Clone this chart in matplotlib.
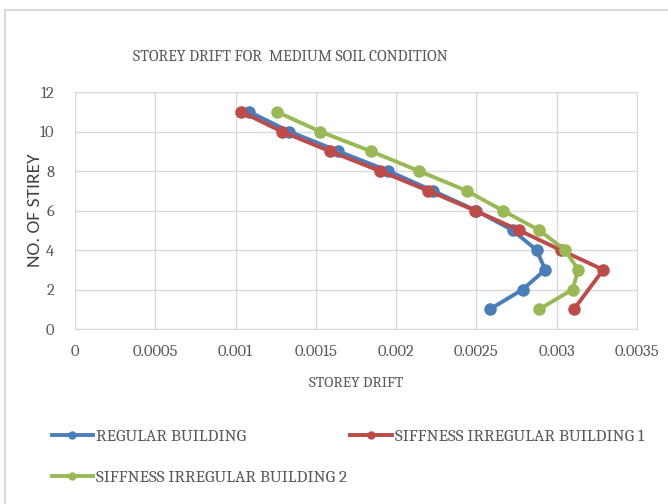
import matplotlib
matplotlib.use('Agg')
import matplotlib.pyplot as plt
from matplotlib.patches import Rectangle

# storey drift values
storeys = [1, 2, 3, 4, 5, 6, 7, 8, 9, 10, 11]
regular = [0.002584, 0.002788, 0.002928, 0.002875, 0.002725, 0.002497,
           0.002229, 0.001951, 0.001640, 0.001334, 0.001085]
# irregular building 1 has no value at storey 2
storeys_irr1 = [1, 3, 4, 5, 6, 7, 8, 9, 10, 11]
irregular1 = [0.003107, 0.003290, 0.003024, 0.002765, 0.002491,
              0.002200, 0.001899, 0.001588, 0.001287, 0.001036]
irregular2 = [0.002891, 0.003099, 0.003134, 0.003051, 0.002891, 0.002663,
              0.002439, 0.002142, 0.001843, 0.001526, 0.001256]

labels = ['REGULAR BUILDING', 'SIFFNESS IRREGULAR BUILDING 1',
          'SIFFNESS IRREGULAR BUILDING 2']
colors = ['#4a7ebb', '#be4b48', '#98b954']
xticks = [0, 0.0005, 0.001, 0.0015, 0.002, 0.0025, 0.003, 0.0035]
xticklabels = ['0', '0.0005', '0.001', '0.0015', '0.002', '0.0025', '0.003', '0.0035']
yticks = [0, 2, 4, 6, 8, 10, 12]

serif = 'Caladea'
grey = '#595959'
grid = '#d9d9d9'

fig = plt.figure(figsize=(6.68, 5.04), dpi=100)
# chart frame (partly cut off in the original)
fig.patches.append(Rectangle((5 / 668, -0.1), 1.2, 1 - 10 / 504 + 0.1,
                             transform=fig.transFigure, fill=False,
                             edgecolor='#d9d9d9', lw=1.5))

ax = fig.add_axes([75 / 668, 1 - 329 / 504, (637 - 75) / 668, (329 - 92) / 504])

series = [(regular, storeys), (irregular1, storeys_irr1), (irregular2, storeys)]
handles = []
for (xs, ys), lab, c in zip(series, labels, colors):
    h, = ax.plot(xs, ys, color=c, lw=2.8, marker='o', markersize=8,
                 label=lab, solid_joinstyle='round', zorder=3)
    handles.append(h)

ax.set_xlim(0, 0.0035)
ax.set_ylim(0, 12)
ax.set_xticks(xticks)
ax.set_xticklabels(xticklabels)
ax.set_yticks(yticks)
ax.grid(True, color=grid, lw=1)
ax.set_axisbelow(True)
for s in ax.spines.values():
    s.set_color(grid)
ax.tick_params(length=0, colors=grey, labelsize=12)
ax.tick_params(axis='x', pad=11)
ax.tick_params(axis='y', pad=15)
for t in ax.get_xticklabels() + ax.get_yticklabels():
    t.set_family(serif)

ax.set_xlabel('STOREY DRIFT', family=serif, fontsize=11, color=grey)
ax.xaxis.set_label_coords(0.5, -(383 - 329) / 237)
ax.set_ylabel('NO. OF STIREY', family='Carlito', fontsize=14, color='#404040')
ax.yaxis.set_label_coords(-(75 - 35) / 562, 0.5)
ax.xaxis.label.set_va('center')
ax.yaxis.label.set_va('center')

fig.text(290 / 668, 1 - 57 / 504, 'STOREY DRIFT FOR  MEDIUM SOIL CONDITION',
         family=serif, fontsize=11.4, color=grey, ha='center', va='center')

# legend order: column-major fill, so put building 2 second
leg = fig.legend([handles[0], handles[2], handles[1]],
                 [labels[0], labels[2], labels[1]],
                 ncol=2, loc='upper left', bbox_to_anchor=(36 / 668, 1 - 413 / 504),
                 frameon=False, handlelength=2.4, handletextpad=0.15,
                 columnspacing=0.2, labelspacing=1.45,
                 prop={'family': serif, 'size': 12.5}, labelcolor=grey)
for h in leg.legend_handles:
    h.set_markersize(5)

fig.savefig('out.png', dpi=100)
